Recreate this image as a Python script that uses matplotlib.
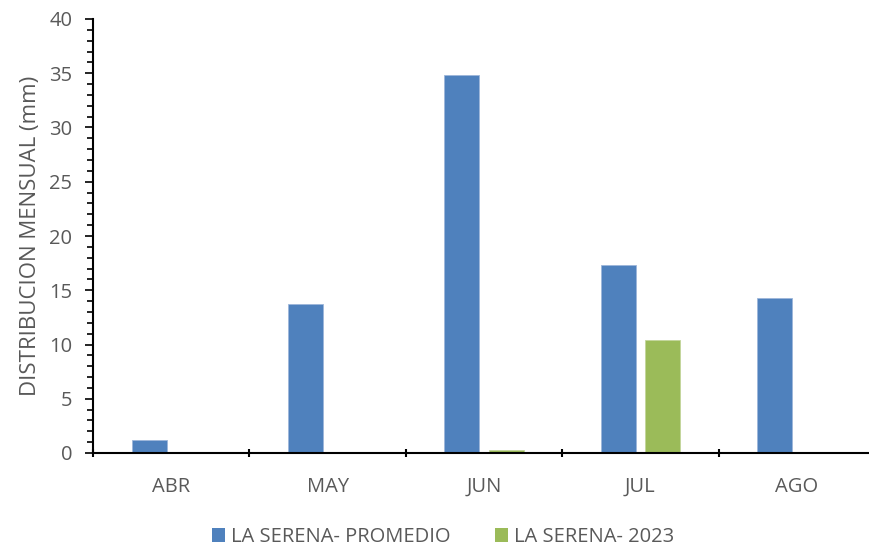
import matplotlib
matplotlib.use("Agg")
import matplotlib.pyplot as plt
import numpy as np
from matplotlib.patches import Patch
from matplotlib.ticker import MultipleLocator

categories = ["ABR", "MAY", "JUN", "JUL", "AGO"]
promedio = [1.2, 13.7, 34.8, 17.3, 14.3]
y2023 = [0.0, 0.0, 0.3, 10.4, 0.0]
series_names = ["LA SERENA- PROMEDIO", "LA SERENA- 2023"]
colors = ["#4F81BD", "#9BBB59"]

plt.rcParams['font.family'] = ['Open Sans', 'DejaVu Sans']
grey = "#595959"
fs = 14.5

W, H = 869, 549
fig = plt.figure(figsize=(W/100, H/100), dpi=100)
left, right = 93, 875
top, bottom = 19, 453
ax = fig.add_axes([left/W, 1 - bottom/H, (right-left)/W, (bottom-top)/H])

x = np.arange(len(categories))
bw = 0.224
off = 0.141
ax.bar(x - off, promedio, bw, color=colors[0], edgecolor="#9DB6DA", linewidth=0.6)
ax.bar(x + off, y2023, bw, color=colors[1], edgecolor="#C3D69B", linewidth=0.6)

ax.set_xlim(-0.5, 4.5)
ax.set_ylim(0, 40)
ax.yaxis.set_major_locator(MultipleLocator(5))
ax.yaxis.set_minor_locator(MultipleLocator(1))
ax.set_xticks(x)
ax.set_xticklabels(categories)
ax.set_xticks(np.arange(-0.5, 5, 1), minor=True)

for s in ["top", "right"]:
    ax.spines[s].set_visible(False)
for s in ["left", "bottom"]:
    ax.spines[s].set_linewidth(1.5)
    ax.spines[s].set_color("black")

ax.tick_params(axis='y', which='major', length=6, width=1.2, direction='out',
               labelsize=fs, labelcolor=grey, pad=9)
ax.tick_params(axis='y', which='minor', length=4, width=1.2, direction='out')
ax.tick_params(axis='x', which='major', length=0, labelsize=fs, labelcolor=grey, pad=17)
ax.tick_params(axis='x', which='minor', length=6, width=1.5, direction='inout')

ax.set_ylabel("DISTRIBUCION MENSUAL (mm)", fontsize=16, color=grey, labelpad=6)

handles = [Patch(facecolor=c, edgecolor='none') for c in colors]
fig.legend(handles, series_names, loc='center', bbox_to_anchor=(443/W, 1 - 537/H),
           ncol=2, frameon=False, fontsize=fs, labelcolor=grey,
           handlelength=0.65, handleheight=0.65, handletextpad=0.3, columnspacing=2.2)

fig.savefig("out.png", dpi=100)
